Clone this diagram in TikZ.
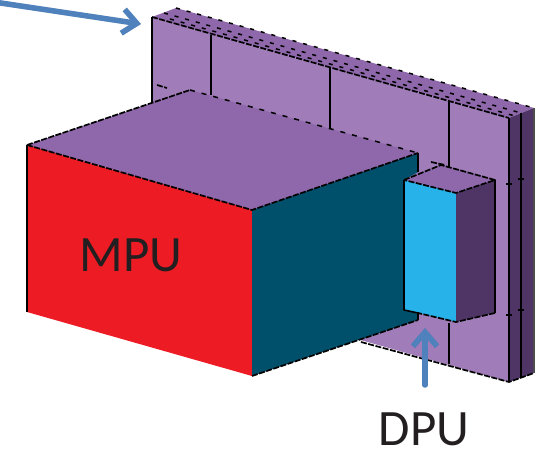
\documentclass[tikz,border=0pt]{standalone}
\usepackage{fontspec}
\setmainfont{Carlito}
\usepackage{xcolor}
\usepackage{tikz}
\usetikzlibrary{arrows.meta}
\definecolor{wallfront}{HTML}{A07CB8}
\definecolor{walltop}{HTML}{8F68AB}
\definecolor{wallside}{HTML}{4F3566}
\definecolor{mpured}{HTML}{ED1C24}
\definecolor{mputeal}{HTML}{004F6B}
\definecolor{dpucyan}{HTML}{27B2E9}
\definecolor{callout}{HTML}{4F81BD}
\definecolor{labeltext}{HTML}{231F20}

\begin{document}
\begin{tikzpicture}[x=1pt, y=-1pt, line join=round,
  seam/.style={black, line width=1.6pt},
  edge/.style={black, line width=1.7pt, dash pattern=on 6pt off 1.5pt},
  sparse/.style={black, line width=1.5pt, dash pattern=on 5pt off 7pt},
  dots/.style={black, line width=1.5pt, dash pattern=on 4pt off 7pt},
  arr/.style={callout, line width=5.5pt, line cap=round, -{Straight Barb[length=14pt, width=24pt, line width=5.5pt]}},
  arrshade/.style={arr, black, opacity=0.12},
  lbl/.style={font=\fontsize{51}{51}\selectfont, text=labeltext, inner sep=0pt, anchor=base}]
\useasboundingbox (0,0) rectangle (542,449);
\coordinate (wallA) at (152,17);
\coordinate (wallB) at (176,8);
\coordinate (wallC) at (534,108);
\coordinate (wallD) at (509,118);
\coordinate (wallE) at (509,382);
\coordinate (wallF) at (534,373);
\coordinate (wallG) at (152,281);
\coordinate (wallH) at (521,113);
\coordinate (wallJ) at (521,378);
\coordinate (boxA) at (27,145);
\coordinate (boxB) at (190,90);
\coordinate (boxC) at (418,153);
\coordinate (boxD) at (252,210);
\coordinate (boxE) at (252,376);
\coordinate (boxF) at (27,312);
\coordinate (boxG) at (418,320);
\coordinate (boxJ) at (418,172);
\coordinate (dpuA) at (404,180);
\coordinate (dpuB) at (441,165);
\coordinate (dpuC) at (495,180);
\coordinate (dpuD) at (456,193);
\coordinate (dpuE) at (456,322);
\coordinate (dpuF) at (495,313);
\coordinate (dpuG) at (404,310);
\coordinate (dpuH) at (418,313);
\coordinate (tailW) at (-6,2);
\coordinate (tipW) at (141,24);
\coordinate (tailD) at (425,385);
\coordinate (tipD) at (425,328);
\fill[wallfront] (wallA) -- (wallD) -- (wallE) -- (wallG) -- cycle;
\fill[walltop] (wallA) -- (wallB) -- (wallC) -- (wallD) -- cycle;
\fill[wallside] (wallD) -- (wallC) -- (wallF) -- (wallE) -- cycle;
\draw[edge] (wallA) -- (wallD);
\draw[dots] (wallB) -- (wallC);
\draw[dots] (164,13) -- (wallH);
\draw[dots] (170,19) -- (515,116);
\draw[seam] (wallA) -- (152,103);
\draw[seam] (wallD) -- (wallE);
\draw[seam] (wallH) -- (wallJ);
\draw[seam, black!70, line width=1.8pt] (wallC) -- (wallF);
\draw[seam] (211,35) -- (211,95);
\draw[seam] (330,68) -- (330,128);
\draw[seam] (449,102) -- (449,167);
\draw[seam, line width=2.5pt] (449,323) -- (449,364);
\draw[edge] (361,342) -- (wallE) -- (wallF);
\draw[edge] (157,85) -- (167,88);
\draw[edge] (431,162) -- (445,165);
\foreach \xpos/\ypos in {509/184, 521/179, 509/315, 521/310}
  \draw[seam] (\xpos-3,\ypos) -- (\xpos+3,\ypos);
\fill[walltop] (boxA) -- (boxB) -- (boxC) -- (boxD) -- cycle;
\fill[mpured] (boxA) -- (boxD) -- (boxE) -- (boxF) -- cycle;
\fill[mputeal] (boxD) -- (boxC) -- (boxJ) -- (dpuA) -- (dpuG) -- (dpuH) -- (boxG) -- (boxE) -- cycle;
\draw[sparse] (boxB) -- (boxC);
\draw[edge] (boxA) -- (boxB);
\draw[edge] (boxA) -- (boxD) -- (boxC);
\draw[seam] (boxA) -- (boxF);
\draw[edge] (boxE) -- (boxG);
\draw[seam] (boxC) -- (boxJ);
\fill[walltop] (dpuA) -- (dpuB) -- (dpuC) -- (dpuD) -- cycle;
\fill[dpucyan] (dpuA) -- (dpuD) -- (dpuE) -- (dpuH) -- (dpuG) -- cycle;
\fill[wallside] (dpuD) -- (dpuC) -- (dpuF) -- (dpuE) -- cycle;
\draw[edge] (dpuA) -- (dpuB) -- (dpuC) -- (dpuD) -- cycle;
\draw[seam] (dpuA) -- (dpuG) -- (dpuH) -- (boxG);
\draw[seam] (dpuC) -- (dpuF);
\draw[edge] (dpuF) -- (dpuE) -- (dpuH);
\begin{scope}[yshift=-6pt]
\draw[arrshade] (tailW) -- (tipW);
\draw[arrshade] (tailD) -- (tipD);
\end{scope}
\draw[arr] (tailW) -- (tipW);
\draw[arr] (tailD) -- (tipD);
\node[lbl] (mpu) at (131,272) {MPU};
\node[lbl] (dpu) at (424,446) {DPU};
\end{tikzpicture}
\end{document}
